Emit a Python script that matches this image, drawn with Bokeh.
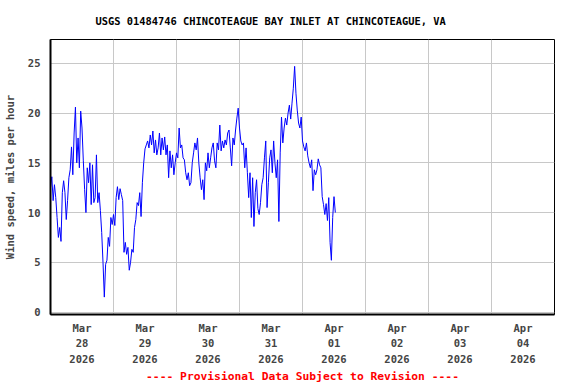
import pandas as pd
from bokeh.plotting import figure
from bokeh.models import Range1d, FixedTicker, Title
from bokeh.embed import file_html
from bokeh.resources import INLINE

# ---- data ----
start_time = "2026-03-28 00:00"
interval = "30min"
wind_mph = [
    12.5, 13.6, 11.2, 12.8, 11.5, 9.5, 7.5, 8.5, 7.1, 12.0,
    13.2, 12.0, 9.3, 11.2, 13.5, 14.3, 16.6, 13.8, 18.0, 20.6,
    15.0, 17.5, 14.5, 20.2, 18.5, 15.2, 12.3, 10.0, 14.5, 13.0,
    15.0, 10.8, 14.8, 11.0, 11.5, 15.8, 11.0, 12.0, 10.2, 8.0,
    5.0, 1.5, 4.8, 5.2, 7.5, 6.6, 9.5, 8.8, 9.8, 8.7,
    11.5, 12.6, 11.3, 12.4, 11.8, 11.2, 6.0, 7.0, 5.8, 6.5,
    4.2, 5.0, 6.3, 6.0, 8.5, 9.3, 11.0, 10.7, 12.0, 9.6,
    13.0, 15.0, 16.4, 16.8, 17.2, 16.5, 17.8, 16.8, 18.2, 16.0,
    17.3, 15.8, 16.5, 18.0, 15.8, 17.5, 16.3, 17.6, 15.8, 16.8,
    13.5, 16.2, 14.5, 15.8, 13.8, 15.0, 16.0, 15.5, 18.5, 16.5,
    16.8, 15.5, 15.3, 14.0, 13.3, 14.0, 12.7, 13.0, 15.0, 16.0,
    17.0, 16.3, 17.5, 15.0, 13.5, 12.3, 13.3, 11.3, 15.0, 14.2,
    16.0, 14.5, 15.5, 16.5, 17.0, 15.2, 14.5, 17.0, 16.3, 18.8,
    16.2, 17.2, 16.5, 17.3, 16.8, 18.0, 18.3, 16.5, 14.7, 17.5,
    16.8, 18.3, 19.5, 20.5, 18.5, 17.2, 16.8, 17.0, 14.5, 16.5,
    14.0, 11.5, 14.0, 9.5, 13.5, 8.6, 12.0, 13.3, 10.4, 9.8,
    11.0, 12.8, 13.5, 15.5, 17.2, 10.5, 13.0, 15.5, 16.3, 14.0,
    17.2, 15.0, 13.5, 15.3, 9.1, 16.0, 19.6, 17.0, 18.5, 19.5,
    18.8, 20.0, 20.8, 19.4, 21.0, 22.5, 24.7, 22.0, 20.3, 19.0,
    18.5, 19.6, 17.2, 16.6, 16.2, 17.0, 15.7, 15.0, 14.5, 15.3,
    12.2, 14.3, 13.8, 14.3, 15.4, 14.8, 14.5, 11.6, 10.8, 9.8,
    10.9, 9.2, 11.5, 7.0, 5.2, 9.5, 11.6, 10.0,
]
day_labels = ["Mar\n28\n2026", "Mar\n29\n2026", "Mar\n30\n2026", "Mar\n31\n2026",
              "Apr\n01\n2026", "Apr\n02\n2026", "Apr\n03\n2026", "Apr\n04\n2026"]
y_ticks = [0, 5, 10, 15, 20, 25]
title_text = "USGS 01484746 CHINCOTEAGUE BAY INLET AT CHINCOTEAGUE, VA"
y_label = "Wind speed, miles per hour"
footer_text = "---- Provisional Data Subject to Revision ----"

# time as days since start
t0 = pd.Timestamp(start_time)
times = pd.date_range(start_time, periods=len(wind_mph), freq=interval)
days = list((times - t0) / pd.Timedelta(days=1))
n_days = len(day_labels)

FONT = "DejaVu Sans Mono"

p = figure(width=568, height=382, output_backend="svg", toolbar_location=None,
           x_range=Range1d(0, n_days), y_range=Range1d(-0.25, 27.4),
           min_border_left=43, min_border_right=14, min_border_top=39,
           min_border_bottom=8)
p.background_fill_color = "white"
p.border_fill_color = "white"
p.outline_line_color = "black"
p.outline_line_width = 1

p.line(days, wind_mph, line_color="#0000ff", line_width=1)

# title
t = Title(text=title_text, align="left", offset=45,
          text_font=FONT, text_font_size="10.4px", text_font_style="bold",
          text_color="black", standoff=25)
p.add_layout(t, "above")

# axes
xa = p.xaxis[0]
xa.ticker = FixedTicker(ticks=[i + 0.5 for i in range(n_days)])
xa.major_label_overrides = {i + 0.5: lab for i, lab in enumerate(day_labels)}
xa.major_tick_line_color = None
xa.minor_tick_line_color = None
xa.axis_line_width = 2
xa.axis_line_color = "black"
xa.major_label_text_font = FONT
xa.major_label_text_font_size = "10.5px"
xa.major_label_text_font_style = "bold"
xa.major_label_text_line_height = 1.3
xa.major_label_standoff = 1

ya = p.yaxis[0]
ya.ticker = FixedTicker(ticks=y_ticks)
ya.major_tick_line_color = None
ya.minor_tick_line_color = None
ya.axis_line_width = 2
ya.axis_line_color = "black"
ya.major_label_text_font = FONT
ya.major_label_text_font_size = "10.5px"
ya.major_label_text_font_style = "bold"
ya.major_label_standoff = 4
ya.axis_label = y_label
ya.axis_label_text_font = FONT
ya.axis_label_text_font_size = "10.5px"
ya.axis_label_text_font_style = "bold"
ya.axis_label_standoff = 9

# grids
p.xgrid.ticker = FixedTicker(ticks=list(range(1, n_days)))
p.ygrid.ticker = FixedTicker(ticks=y_ticks)
for g in (p.xgrid[0], p.ygrid[0]):
    g.grid_line_color = "#c8c8c8"
    g.grid_line_width = 1

# footer
f = Title(text=footer_text, align="center",
          text_font=FONT, text_font_size="11.3px", text_font_style="bold",
          text_color="#ff0000", standoff=0)
p.add_layout(f, "below")

open("out.html", "w").write(file_html(p, INLINE))
